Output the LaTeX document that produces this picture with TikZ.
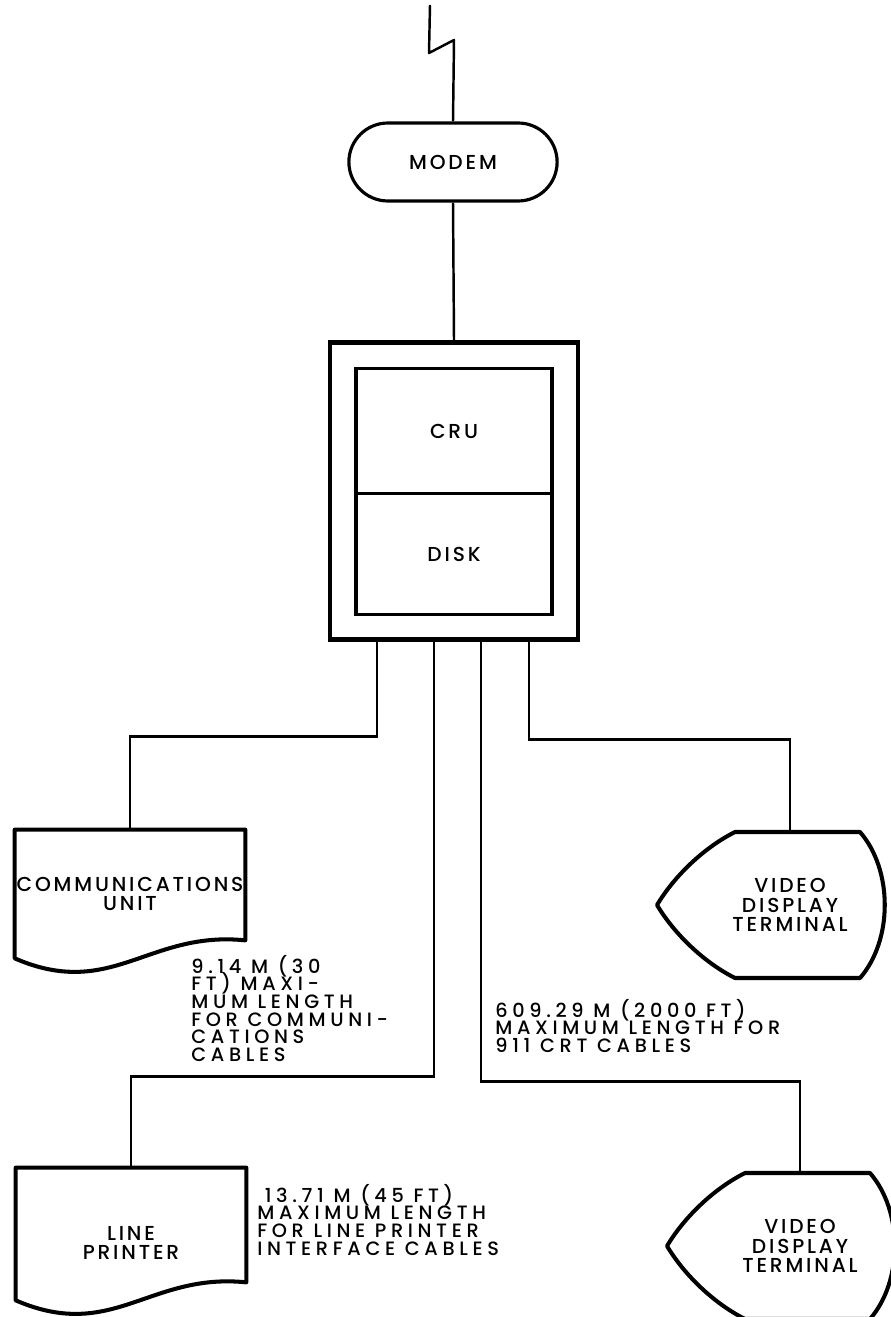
\documentclass[tikz,border=0pt]{standalone}
\usepackage{fontspec}
\setmainfont{Poppins}[UprightFont=* Medium,LetterSpace=14]
\usetikzlibrary{positioning,calc,shapes.misc}

\begin{document}
\begin{tikzpicture}[x=0.02cm,y=-0.02cm,
    font={\fontsize{11.5}{11.3}\selectfont\lineskiplimit=-20pt},
    conn/.style={line width=1.4pt},
    unitbox/.style={draw,line width=1.8pt,outer sep=0pt,minimum width=3.92cm},
    docbox/.style={minimum width=4.6cm,inner sep=0pt,align=center},
    vdtbox/.style={minimum height=2.92cm,inner sep=0pt,align=center},
    outline/.style={line width=2.3pt,line join=round},
    note/.style={align=left,anchor=north west,inner sep=0pt,
      font={\fontsize{11}{10}\selectfont\addfontfeatures{LetterSpace=24}\lineskiplimit=-20pt}}]
  \useasboundingbox (0,0) rectangle (891,1317);
  % modem and phone line
  \node[draw,rounded rectangle,line width=1.8pt,minimum width=4.4cm,minimum height=1.56cm] (modem) at (453,162) {MODEM};
  \coordinate (bolt) at (430,5);
  \draw[conn,line join=round] (bolt) -- (429,53) -- (454,40) -- (modem.north);
  % processor cabinet
  \node[draw,line width=2.4pt,minimum width=4.96cm,minimum height=5.94cm] (cpu) at (454,491) {};
  \node[unitbox,minimum height=2.5cm] (cru) at (454,431) {CRU};
  \node[unitbox,minimum height=2.42cm,below=0pt of cru] (disk) {DISK};
  \draw[conn] (modem.south) -- (cpu.north);
  % peripherals
  \node[docbox,minimum height=2.56cm] (comm) at (130,894) {COMMUNICATIONS\\UNIT};
  \node[docbox,minimum height=3cm] (printer) at (131,1243) {LINE\\PRINTER};
  \foreach \n/\d in {comm/0,printer/18}
    \draw[outline] ($(\n.south east)+(0,-18-\d)$) .. controls ($(\n.south east)+(-97,-28-\d)$) and ($(\n.south west)+(97,42-\d)$) .. ($(\n.south west)+(0,-\d)$) -- (\n.north west) -- (\n.north east) -- cycle;
  \node[vdtbox] (vdt1) at (790,905) {VIDEO\\DISPLAY\\TERMINAL};
  \node[vdtbox] (vdt2) at (800,1246) {VIDEO\\DISPLAY\\TERMINAL};
  \foreach \n in {vdt1,vdt2}
    \draw[outline] ($(\n.center)+(-55,-73)$) -- ($(\n.center)+(70,-73)$) .. controls ($(\n.center)+(103,-35)$) and ($(\n.center)+(103,35)$) .. ($(\n.center)+(70,73)$) -- ($(\n.center)+(-55,73)$) .. controls ($(\n.center)+(-85,58)$) and ($(\n.center)+(-115,30)$) .. ($(\n.center)+(-133,0)$) .. controls ($(\n.center)+(-115,-30)$) and ($(\n.center)+(-85,-58)$) .. cycle;
  % cables
  \coordinate (t1) at ($(cpu.south)+(-77,0)$);
  \coordinate (t2) at ($(cpu.south)+(-20,0)$);
  \coordinate (t3) at ($(cpu.south)+(27,0)$);
  \coordinate (t4) at ($(cpu.south)+(75,0)$);
  \draw[conn] (t1) -- ++(0,95) -| (comm.north);
  \draw[conn] (t4) -- ++(0,98) -| (vdt1.north);
  \draw[conn] (t2) -- ++(0,435) -| (printer.north);
  \draw[conn] (t3) -- ++(0,440) -| (vdt2.north);
  % cable lengths
  \node[note] (commnote) at (191,955) {9.14 M (30\\FT) MAXI-\\MUM LENGTH\\FOR COMMUNI-\\CATIONS\\CABLES};
  \node[note] (crtnote) at (495,999) {609.29 M (2000 FT)\\MAXIMUM LENGTH FOR\\911 CRT CABLES};
  \node[note] (lpnote) at (257,1184) {\hspace*{1.5mm}13.71 M (45 FT)\\MAXIMUM LENGTH\\FOR LINE PRINTER\\INTERFACE CABLES};
\end{tikzpicture}
\end{document}
